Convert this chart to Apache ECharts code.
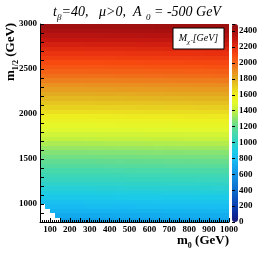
<!DOCTYPE html>
<html><head><meta charset="utf-8">
<script src="https://cdn.jsdelivr.net/npm/echarts@6/dist/echarts.min.js"></script>
<style>html,body{margin:0;padding:0;background:#fff}#c{width:266px;height:253px}</style>
</head><body><div id="c"></div>
<script>
// ---- data ----
const m0Bins = [50,75,100,125,150,175,200,225,250,275,300,325,350,375,400,425,450,475,500,525,550,575,600,625,650,675,700,725,750,775,800,825,850,875,900,925,950,975];
const m0BinWidth = 25;
const m12Bins = [800,850,900,950,1000,1050,1100,1150,1200,1250,1300,1350,1400,1450,1500,1550,1600,1650,1700,1750,1800,1850,1900,1950,2000,2050,2100,2150,2200,2250,2300,2350,2400,2450,2500,2550,2600,2650,2700,2750,2800,2850,2900,2950];
const m12BinWidth = 50;
// mass (GeV) per m1/2 row at low m0
const rowMass = [665,705,745,785,828,868,910,950,990,1032,1072,1113,1154,1195,1236,1276,1318,1358,1400,1440,1481,1522,1563,1603,1645,1686,1727,1768,1808,1850,1890,1931,1972,2013,2054,2095,2136,2177,2218,2258,2300,2340,2381,2422];
// small increase of the mass with m0 (GeV)
const colShift = [0,0,0,0,0,0,0,0,0,1,1,2,2,3,3,4,4,5,5,6,6,7,7,8,8,9,9,10,10,11,11,12,12,13,13,14,14,15];
// excluded (white) cells in the lower-left corner
const exclRows = [800,850,900,950];
const exclBelowM0 = [150,125,100,75];
const xTickLabels = [100,200,300,400,500,600,700,800,900,1000];
const yTickLabels = [1000,1500,2000,2500,3000];
const zTickLabels = [0,200,400,600,800,1000,1200,1400,1600,1800,2000,2200,2400];
const palette = ['#1a1a7a','#0b2a9a','#0a3fb0','#0c55c0','#0d6ccc','#0f80d8','#1092e2','#12a8ec','#18bef2','#1ccce6','#30d2c8','#42d8b0','#62dc92','#8ae470','#c0f040','#e2f82c','#eef020','#e8d020','#e2b020','#ea9020','#f26818','#f84a10','#e83010','#c81810','#a81010','#901010'];
const zMax = 2490;

const cells = [];
m12Bins.forEach((y, j) => {
  const k = exclRows.indexOf(y);
  m0Bins.forEach((x, i) => {
    if (k >= 0 && x < exclBelowM0[k]) return;
    cells.push([x, x + m0BinWidth, y, y + m12BinWidth, rowMass[j] + colShift[i]]);
  });
});

const serif = 'Liberation Serif, Times New Roman, serif';
const chart = echarts.init(document.getElementById('c'), null, {renderer:'canvas'});
chart.setOption({
  animation: false,
  backgroundColor: '#fff',
  grid: [
    {left: 40, top: 24, width: 189, height: 198, show: true, borderColor: '#000', borderWidth: 0, backgroundColor: '#fff'},
    {left: 232, top: 24, width: 6, height: 198}
  ],
  xAxis: [
    {gridIndex: 0, type: 'value', min: 50, max: 1000, interval: 50, z: 5,
     axisLine: {show: true, lineStyle: {color: '#000', width: 1}},
     axisTick: {inside: true, length: 4, lineStyle: {color: '#000'}},
     minorTick: {show: true, splitNumber: 5, length: 2, lineStyle: {color: '#000'}},
     splitLine: {show: false},
     axisLabel: {margin: 3, fontFamily: serif, fontWeight: 'bold', fontSize: 9, color: '#000',
       formatter: v => xTickLabels.includes(v) ? String(v) : ''}},
    {gridIndex: 1, type: 'value', min: 0, max: 1, show: false}
  ],
  yAxis: [
    {gridIndex: 0, type: 'value', min: 800, max: 3000, interval: 100, z: 5,
     axisLine: {show: true, lineStyle: {color: '#000', width: 1}},
     axisTick: {inside: true, length: 4, lineStyle: {color: '#000'}},
     splitLine: {show: false},
     axisLabel: {margin: 3, fontFamily: serif, fontWeight: 'bold', fontSize: 9, color: '#000',
       formatter: v => yTickLabels.includes(v) ? String(v) : ''}},
    {gridIndex: 1, type: 'value', min: 0, max: zMax, interval: 200, position: 'right', z: 5,
     axisLine: {show: false},
     axisTick: {show: true, length: 3, lineStyle: {color: '#000'}},
     splitLine: {show: false},
     axisLabel: {margin: 1, fontFamily: serif, fontWeight: 'bold', fontSize: 9, color: '#000',
       formatter: v => zTickLabels.includes(v) ? String(v) : ''}}
  ],
  visualMap: {
    type: 'continuous', min: 0, max: zMax, dimension: 4, seriesIndex: 0,
    orient: 'vertical', left: 232, top: 24, itemWidth: 6, itemHeight: 198, padding: 0,
    calculable: false, text: null, showLabel: false, hoverLink: false,
    inRange: {color: palette}
  },
  series: [{
    type: 'custom', xAxisIndex: 0, yAxisIndex: 0, z: 1,
    encode: {x: [0, 1], y: [2, 3]},
    data: cells,
    renderItem: (params, api) => {
      const p1 = api.coord([api.value(0), api.value(3)]);
      const p2 = api.coord([api.value(1), api.value(2)]);
      const x = Math.round(p1[0]), y = Math.round(p1[1]);
      return {type: 'rect', shape: {x: x, y: y, width: Math.round(p2[0]) - x, height: Math.round(p2[1]) - y},
        style: {fill: api.visual('color')}};
    }
  }],
  graphic: [
    {type: 'text', x: 137, y: 12, style: {
      text: '{i|t}{s|β}{i|=40,   μ>0,  A}{s|  0}{i| = -500 GeV}', align: 'center', verticalAlign: 'middle',
      rich: {
        i: {fontFamily: serif, fontStyle: 'italic', fontSize: 14, lineHeight: 20, color: '#000'},
        s: {fontFamily: serif, fontStyle: 'italic', fontSize: 9, lineHeight: 9, verticalAlign: 'bottom', color: '#000'}
      }}},
    {type: 'text', x: 11, y: 52, rotation: Math.PI / 2, style: {
      text: '{b|m}{s|1/2}{b| (GeV)}', align: 'center', verticalAlign: 'middle',
      rich: {
        b: {fontFamily: serif, fontWeight: 'bold', fontSize: 13, lineHeight: 18, color: '#000'},
        s: {fontFamily: serif, fontWeight: 'bold', fontSize: 8, lineHeight: 8, verticalAlign: 'bottom', color: '#000'}
      }}},
    {type: 'text', x: 229, y: 241, style: {
      text: '{b|m}{s|0}{b| (GeV)}', align: 'right', verticalAlign: 'middle',
      rich: {
        b: {fontFamily: serif, fontWeight: 'bold', fontSize: 13, lineHeight: 18, color: '#000'},
        s: {fontFamily: serif, fontWeight: 'bold', fontSize: 8, lineHeight: 8, verticalAlign: 'bottom', color: '#000'}
      }}},
    {type: 'rect', x: 173, y: 28, z: 10, shape: {width: 51, height: 21},
     style: {fill: '#fff', stroke: '#000', lineWidth: 1}},
    {type: 'text', x: 198.5, y: 38.5, z: 11, style: {
      text: '{i|M}{s|χ̃}{i| [GeV]}', align: 'center', verticalAlign: 'middle',
      rich: {
        i: {fontFamily: serif, fontStyle: 'italic', fontSize: 10, lineHeight: 14, color: '#000'},
        s: {fontFamily: serif, fontStyle: 'italic', fontSize: 7, lineHeight: 7, verticalAlign: 'bottom', color: '#000'}
      }}}
  ]
});
</script></body></html>
